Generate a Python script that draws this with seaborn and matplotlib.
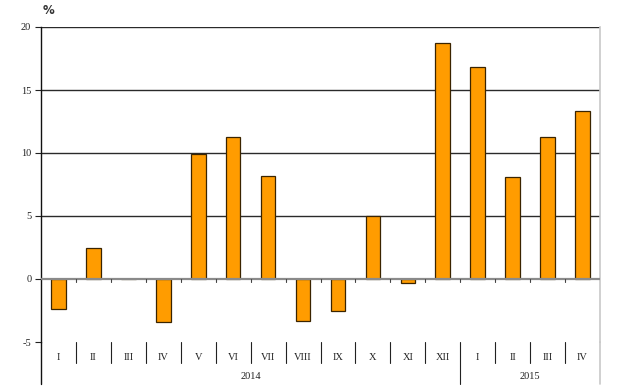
import matplotlib
matplotlib.use("Agg")
import matplotlib.pyplot as plt
import seaborn as sns
import pandas as pd
import numpy as np

months = ["I", "II", "III", "IV", "V", "VI", "VII", "VIII", "IX", "X", "XI", "XII",
          "I", "II", "III", "IV"]
years = ["2014"] * 12 + ["2015"] * 4
values = [-2.4, 2.5, 0.0, -3.4, 9.9, 11.3, 8.2, -3.3, -2.5, 5.0, -0.3, 18.7,
          16.8, 8.1, 11.3, 13.3]
yticks = [-5, 0, 5, 10, 15, 20]

sns.set_theme(style="white")
plt.rcParams["font.family"] = ["Liberation Serif", "DejaVu Serif"]

df = pd.DataFrame({"key": [f"{y}-{m}" for y, m in zip(years, months)],
                   "value": values})

fig = plt.figure(figsize=(6.3, 3.91), dpi=100)
ax = fig.add_axes([41 / 630, 1 - 342 / 391, (600 - 41) / 630, (342 - 27) / 391])

n = len(values)
for v in yticks[2:]:
    ax.axhline(v, color="#2a2a2a", lw=1.0, zorder=0)
ax.axhline(0, color="#8a8a8a", lw=1.6, zorder=3)

sns.barplot(data=df, x="key", y="value", order=list(df["key"]), ax=ax,
            color="#FF9C00", width=0.42, edgecolor="#3a2400", linewidth=0.9,
            saturation=1, zorder=2)

ax.set_xlim(-0.5, n - 0.5)
ax.set_ylim(-5, 20)
ax.set_yticks(yticks)
ax.set_yticklabels([str(t) for t in yticks], fontsize=7.5, color="#222")
ax.tick_params(axis="y", left=True, length=4, width=0.8, color="#222", pad=3)
ax.set_xticks([])
ax.set_xlabel("")
ax.set_ylabel("")

for s in ["top", "bottom"]:
    ax.spines[s].set_visible(False)
ax.spines["left"].set_color("#111")
ax.spines["left"].set_linewidth(1.0)
ax.spines["right"].set_color("#c8c8c8")
ax.spines["right"].set_linewidth(1.2)

trans = ax.get_xaxis_transform()
# small ticks on zero line between categories
for b in np.arange(0.5, n - 0.5, 1.0):
    ax.plot([b, b], [0, -0.25], color="#444", lw=0.8, zorder=3)

# category table
for b in np.arange(0.5, n - 0.5, 1.0):
    y_end = -0.134 if years[int(b - 0.5)] != years[int(b + 0.5)] else -0.067
    ax.plot([b, b], [0, y_end], transform=trans, color="#222", lw=0.8, clip_on=False)
ax.plot([-0.5, -0.5], [0, -0.134], transform=trans, color="#111", lw=1.0, clip_on=False)
ax.plot([n - 0.5, n - 0.5], [0, -0.134], transform=trans, color="#c8c8c8", lw=1.2, clip_on=False)

for i, m in enumerate(months):
    ax.text(i, -0.048, m, transform=trans, ha="center", va="center",
            fontsize=7.5, color="#222")

for yr in dict.fromkeys(years):
    idx = [i for i, y in enumerate(years) if y == yr]
    ax.text((idx[0] + idx[-1]) / 2, -0.111, yr, transform=trans, ha="center",
            va="center", fontsize=7.5, color="#222")

fig.text(48 / 630, 1 - 10 / 391, "%", fontsize=8.5, fontweight="bold",
         family=["DejaVu Sans"], color="#333", ha="center", va="center")

fig.savefig("out.png", dpi=100, facecolor="white")
